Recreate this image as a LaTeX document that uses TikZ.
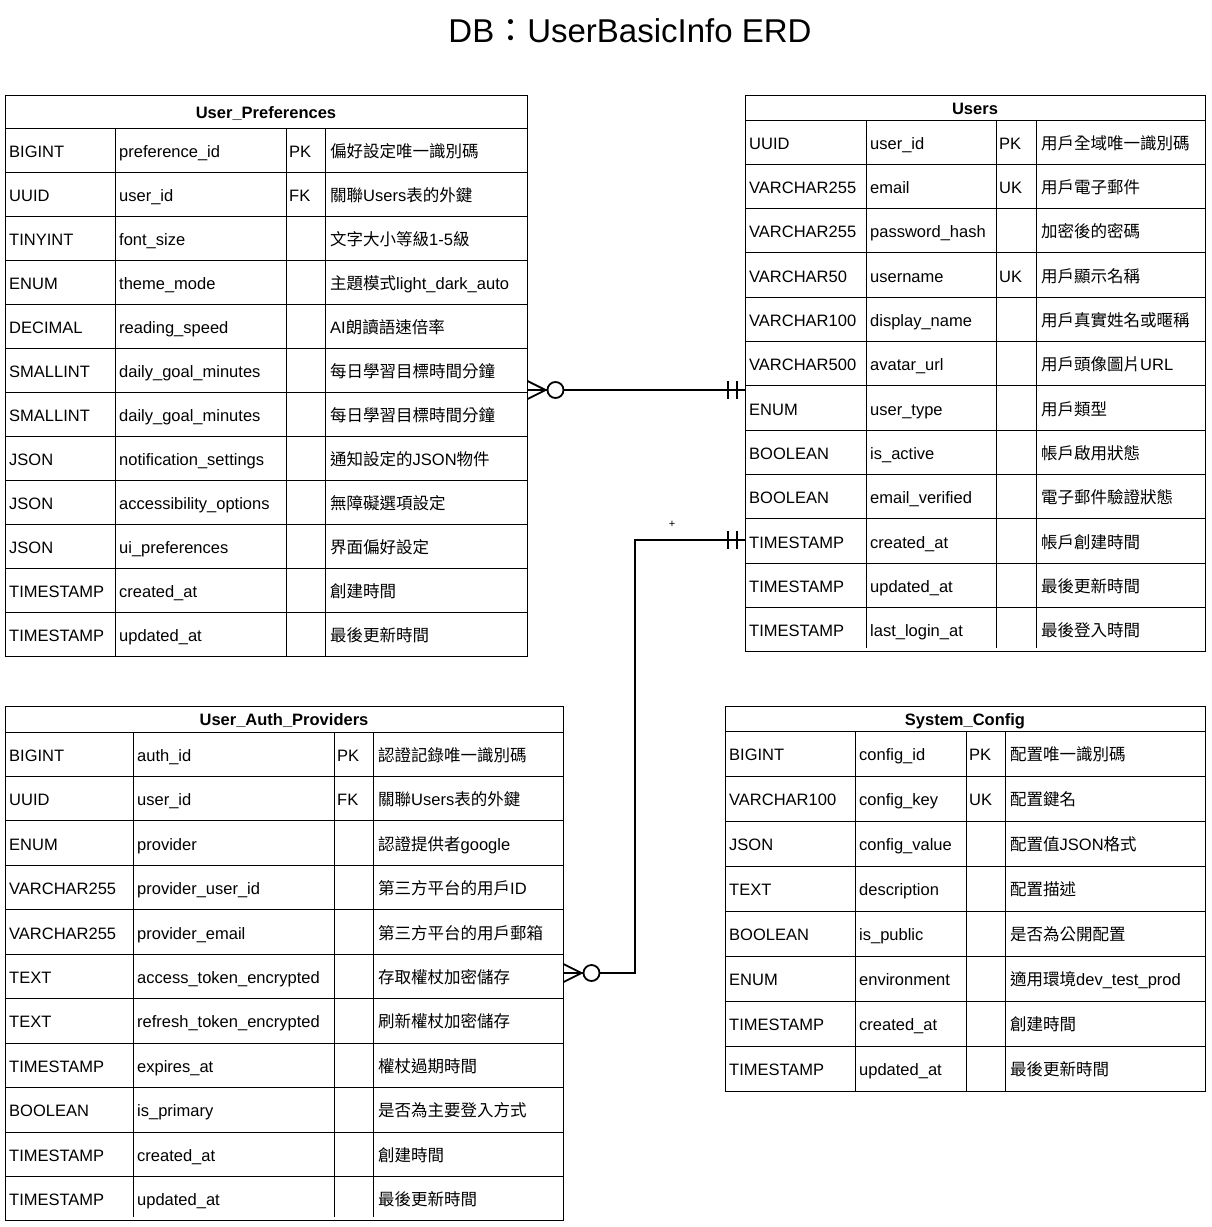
\documentclass[tikz,border=0pt]{standalone}
\usepackage{fontspec}
\setmainfont{Liberation Sans}
\newfontfamily\cjk{Noto Sans CJK TC}
\newcommand\zh[1]{{\cjk #1}}
\usetikzlibrary{fit}
\tikzset{
  tbl/.style={draw=black, line width=1pt},
  cell/.style={anchor=base west, inner sep=0pt, font=\fontsize{16.5}{20}\selectfont},
  hdr/.style={anchor=base, inner sep=0pt, font=\fontsize{16.5}{20}\selectfont\bfseries},
  rel/.style={line width=2pt},
  endm/.style={line width=1.8pt},
  zeromany/.pic={\draw[endm] (0,-9) -- (18,0) -- (0,9); \draw[endm, fill=white] (28,0) circle[radius=8pt];},
  onlyone/.pic={\draw[line width=2pt] (-17,-9) -- (-17,9) (-8,-9) -- (-8,9);}
}
% #1 name, #2 title, #3 geometry x0/x1/x2/x3/x4/ytop/yhead/rowh/nrows/gap, #4 rows
\newcommand\erdtable[4]{%
 \foreach \xa/\xb/\xc/\xd/\xe/\ya/\yb/\rh/\nr/\gp in {#3}{%
   \pgfmathsetmacro\ybot{\yb+\rh*\nr}
   \node[tbl, fit={(\xa,\ya) (\xe,\ybot)}, inner sep=0pt] (#1) {};
   \draw[tbl] (\xa,\yb) -- (\xe,\yb);
   \node[hdr] (#1-title) at ({(\xa+\xe)/2},{(\ya+\yb)/2+6.5}) {#2};
   \foreach \cx in {\xb,\xc,\xd} {\draw[tbl] (\cx,\yb) -- (\cx,\ybot-\gp);}
   \foreach \ta/\tb/\tc/\td [count=\i] in {#4} {%
     \pgfmathsetmacro\ymid{\yb+\rh*(\i-0.5)}
     \pgfmathsetmacro\yline{\yb+\rh*\i}
     \ifnum\i<\nr \draw[tbl] (\xa,\yline) -- (\xe,\yline); \fi
     \node[cell] (#1-\i-a) at (\xa+4,\ymid+7) {\ta};
     \node[cell] (#1-\i-b) at (\xb+4,\ymid+7) {\tb};
     \node[cell] (#1-\i-c) at (\xc+3,\ymid+7) {\tc};
     \node[cell] (#1-\i-d) at (\xd+5,\ymid+7) {\td};
   }
 }
}
\begin{document}
\begin{tikzpicture}[x=1pt,y=-1pt]
\useasboundingbox[fill=white] (0,0) rectangle (1211,1227);

\node[anchor=base, inner sep=0pt, font=\fontsize{33}{39}\selectfont] (title) at (630,42) {DB\zh{：}UserBasicInfo ERD};

\erdtable{up}{User\_Preferences}{5/115/286/325/527/95/128/44/12/0}{%
BIGINT/preference\_id/PK/\zh{偏好設定唯一識別碼},
UUID/user\_id/FK/\zh{關聯}Users\zh{表的外鍵},
TINYINT/font\_size//\zh{文字大小等級}1-5\zh{級},
ENUM/theme\_mode//\zh{主題模式}light\_dark\_auto,
DECIMAL/reading\_speed//AI\zh{朗讀語速倍率},
SMALLINT/daily\_goal\_minutes//\zh{每日學習目標時間分鐘},
SMALLINT/daily\_goal\_minutes//\zh{每日學習目標時間分鐘},
JSON/notification\_settings//\zh{通知設定的}JSON\zh{物件},
JSON/accessibility\_options//\zh{無障礙選項設定},
JSON/ui\_preferences//\zh{界面偏好設定},
TIMESTAMP/created\_at//\zh{創建時間},
TIMESTAMP/updated\_at//\zh{最後更新時間}}

\erdtable{users}{Users}{745/866/996/1036/1205/95/120/44.33/12/4}{%
UUID/user\_id/PK/\zh{用戶全域唯一識別碼},
VARCHAR255/email/UK/\zh{用戶電子郵件},
VARCHAR255/password\_hash//\zh{加密後的密碼},
VARCHAR50/username/UK/\zh{用戶顯示名稱},
VARCHAR100/display\_name//\zh{用戶真實姓名或暱稱},
VARCHAR500/avatar\_url//\zh{用戶頭像圖片}URL,
ENUM/user\_type//\zh{用戶類型},
BOOLEAN/is\_active//\zh{帳戶啟用狀態},
BOOLEAN/email\_verified//\zh{電子郵件驗證狀態},
TIMESTAMP/created\_at//\zh{帳戶創建時間},
TIMESTAMP/updated\_at//\zh{最後更新時間},
TIMESTAMP/last\_login\_at//\zh{最後登入時間}}

\erdtable{auth}{User\_Auth\_Providers}{5/133/334/373/563/706/732/44.45/11/4}{%
BIGINT/auth\_id/PK/\zh{認證記錄唯一識別碼},
UUID/user\_id/FK/\zh{關聯}Users\zh{表的外鍵},
ENUM/provider//\zh{認證提供者}google,
VARCHAR255/provider\_user\_id//\zh{第三方平台的用戶}ID,
VARCHAR255/provider\_email//\zh{第三方平台的用戶郵箱},
TEXT/access\_token\_encrypted//\zh{存取權杖加密儲存},
TEXT/refresh\_token\_encrypted//\zh{刷新權杖加密儲存},
TIMESTAMP/expires\_at//\zh{權杖過期時間},
BOOLEAN/is\_primary//\zh{是否為主要登入方式},
TIMESTAMP/created\_at//\zh{創建時間},
TIMESTAMP/updated\_at//\zh{最後更新時間}}

\erdtable{sys}{System\_Config}{725/855/966/1005/1205/706/731/45/8/0}{%
BIGINT/config\_id/PK/\zh{配置唯一識別碼},
VARCHAR100/config\_key/UK/\zh{配置鍵名},
JSON/config\_value//\zh{配置值}JSON\zh{格式},
TEXT/description//\zh{配置描述},
BOOLEAN/is\_public//\zh{是否為公開配置},
ENUM/environment//\zh{適用環境}dev\_test\_prod,
TIMESTAMP/created\_at//\zh{創建時間},
TIMESTAMP/updated\_at//\zh{最後更新時間}}

% connectors
\coordinate (y1) at (0,390);
\coordinate (y2) at (0,540);
\coordinate (y3) at (0,973);
\coordinate (vx) at (635,0);

\draw[rel] (up.east |- y1) -- (users.west |- y1);
\pic at (up.east |- y1) {zeromany};
\pic at (users.west |- y1) {onlyone};

\draw[rel] (auth.east |- y3) -- (vx |- y3) -- (vx |- y2) -- (users.west |- y2);
\pic at (auth.east |- y3) {zeromany};
\pic at (users.west |- y2) {onlyone};
\node[inner sep=0pt, font=\fontsize{11}{12}\selectfont] (plus) at (672,524) {+};
\end{tikzpicture}
\end{document}
